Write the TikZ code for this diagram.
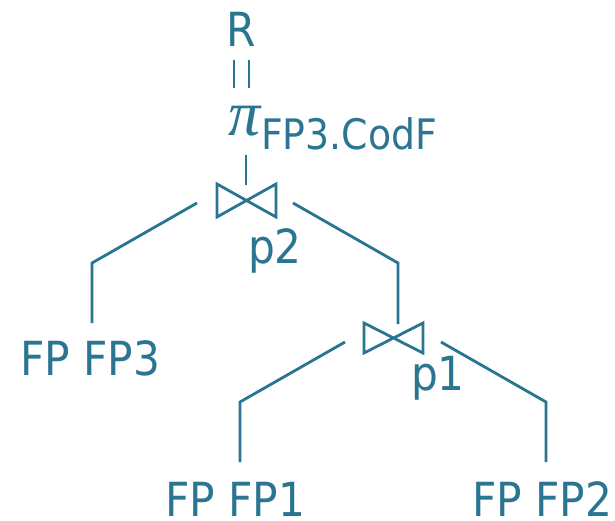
\documentclass[tikz,border=0pt]{standalone}
\usepackage{fontspec}
\setmainfont{DejaVu Sans Condensed}
\newfontfamily\pifont{Liberation Serif}
\definecolor{tc}{RGB}{42,117,145}
\begin{document}
\begin{tikzpicture}[x=1pt,y=-1pt,
  lbl/.style={text=tc,inner sep=0pt,font=\fontsize{47}{55}\selectfont},
  sub/.style={text=tc,inner sep=0pt,font=\fontsize{42}{50}\selectfont},
  ln/.style={draw=tc,line width=2.8pt},
  bowtie/.style={draw=tc,line width=2.8pt,line join=miter}]
\useasboundingbox (0,0) rectangle (615,521);
% top
\node[lbl] (R) at (241,29) {R};
\coordinate (eqa1) at (234,60); \coordinate (eqa2) at (234,88);
\coordinate (eqb1) at (249,60); \coordinate (eqb2) at (249,88);
\draw[ln] (eqa1) -- (eqa2);
\draw[ln] (eqb1) -- (eqb2);
\node[text=tc,inner sep=0pt,font=\pifont\itshape\fontsize{64}{70}\selectfont,anchor=base] (pi) at (245,136) {π};
\node[sub,anchor=west] (proj) at (261,134) {FP3.CodF};
% join p2
\coordinate (j2) at (246.5,200.5);
\coordinate (pil) at (246,155);
\coordinate (j2t) at (246,185);
\draw[ln] (pil) -- (j2t);
\draw[bowtie,shift={(j2)}] (-29.5,-16.5) -- (29.5,16.5) -- (29.5,-16.5) -- (-29.5,16.5) -- cycle;
\node[lbl,anchor=base] (p2) at (275,263) {p2};
\coordinate (l2a) at (197,203); \coordinate (l2b) at (92,263); \coordinate (l2c) at (92,323);
\draw[ln] (l2a) -- (l2b) -- (l2c);
\coordinate (r2a) at (293,203); \coordinate (r2b) at (398,263); \coordinate (r2c) at (398,324);
\draw[ln] (r2a) -- (r2b) -- (r2c);
\node[lbl] (fp3) at (90,358) {FP FP3};
% join p1
\coordinate (j1) at (393.5,338);
\draw[bowtie,shift={(j1)}] (-29.5,-15) -- (29.5,15) -- (29.5,-15) -- (-29.5,15) -- cycle;
\node[lbl,anchor=base] (p1) at (438,390) {p1};
\coordinate (l1a) at (345,342); \coordinate (l1b) at (240,402); \coordinate (l1c) at (240,462);
\draw[ln] (l1a) -- (l1b) -- (l1c);
\coordinate (r1a) at (441,342); \coordinate (r1b) at (546,402); \coordinate (r1c) at (546,462);
\draw[ln] (r1a) -- (r1b) -- (r1c);
\node[lbl] (fp1) at (235,499) {FP FP1};
\node[lbl] (fp2) at (542,499) {FP FP2};
\end{tikzpicture}
\end{document}
